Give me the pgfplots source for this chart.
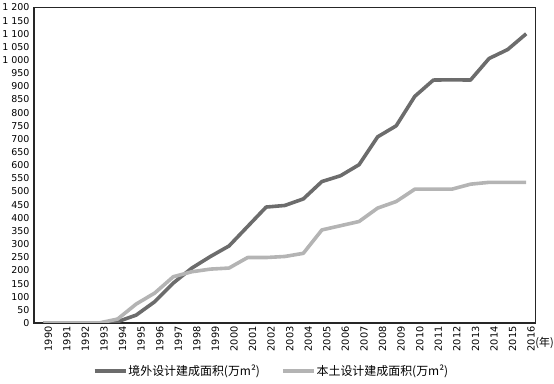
\documentclass[border=0pt]{standalone}
\usepackage{fontspec}
\setmainfont{DejaVu Sans}
\newfontfamily\cjk{Noto Sans CJK SC}
\usepackage{pgfplots}
\pgfplotsset{compat=1.18}
\definecolor{darkser}{RGB}{108,108,108}
\definecolor{lightser}{RGB}{180,180,180}
\begin{document}
\begin{tikzpicture}
\begin{axis}[
  scale only axis, width=501.5bp, height=315.5bp,
  at={(34bp,61bp)}, anchor=south west,
  xmin=1989.5, xmax=2016.5, ymin=0, ymax=1200,
  xtick={1990,...,2016}, ytick={0,50,...,1200},
  major tick length=0pt,
  /pgf/number format/assume math mode=true,
  xticklabel style={rotate=90, anchor=east, font=\fontsize{9.8}{10}\selectfont, /pgf/number format/1000 sep={}, yshift=-5bp},
  yticklabel style={font=\fontsize{9.5}{10}\selectfont, /pgf/number format/1000 sep={\ }, xshift=-1bp},
  axis line style={line width=1.1bp, black!85},
  legend style={at={(0.4726,-0.153)}, anchor=center, draw=none, fill=none,
    legend columns=2, font=\cjk\fontsize{12}{13}\selectfont,
    /tikz/every even column/.append style={column sep=20bp},
    nodes={inner xsep=1bp},
    legend cell align=left},
  legend image code/.code={\draw[#1] (0bp,0bp) -- (31bp,0bp);},
]
\addplot[darkser, line width=3.6bp, line join=round] coordinates {
(1990,0) (1991,0) (1992,0) (1993,0) (1994,5) (1995,30) (1996,81) (1997,152)
(1998,209) (1999,253) (2000,293) (2001,367) (2002,441) (2003,447) (2004,472)
(2005,538) (2006,560) (2007,602) (2008,708) (2009,750) (2010,862) (2011,924)
(2012,925) (2013,924) (2014,1006) (2015,1040) (2016,1100)};
\addlegendentry{境外设计建成面积(万m²)}
\addplot[lightser, line width=3.6bp, line join=round] coordinates {
(1990,0) (1991,0) (1992,0) (1993,0) (1994,15) (1995,72) (1996,114) (1997,176)
(1998,195) (1999,205) (2000,209) (2001,249) (2002,249) (2003,253) (2004,265)
(2005,354) (2006,370) (2007,386) (2008,437) (2009,462) (2010,509) (2011,509)
(2012,509) (2013,528) (2014,535) (2015,535) (2016,535)};
\addlegendentry{本土设计建成面积(万m²)}
\end{axis}
\node[font=\cjk\fontsize{11}{12}\selectfont, anchor=east, inner sep=0pt] at (554bp,41bp) {(年)};
\pgfresetboundingbox
\path[use as bounding box] (0,0) rectangle (554bp,384bp);
\end{tikzpicture}
\end{document}
